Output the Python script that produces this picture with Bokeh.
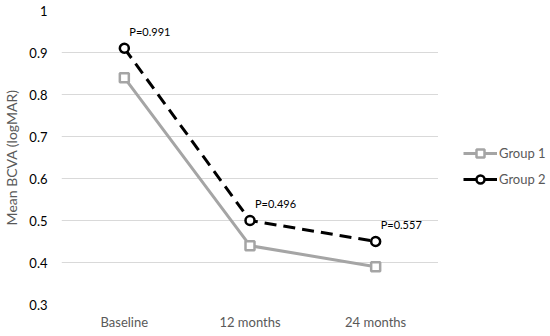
from bokeh.plotting import figure
from bokeh.layouts import row
from bokeh.models import FactorRange, Range1d, FixedTicker, Legend, LegendItem, ColumnDataSource, LabelSet
from bokeh.core.properties import value
from bokeh.embed import file_html
from bokeh.resources import INLINE

categories = ["Baseline", "12 months", "24 months"]
group1 = [0.84, 0.44, 0.39]
group2 = [0.91, 0.50, 0.45]
p_labels = ["P=0.991", "P=0.496", "P=0.557"]
y_ticks = [0.3, 0.4, 0.5, 0.6, 0.7, 0.8, 0.9, 1.0]
series_names = ["Group 1", "Group 2"]

FONT = "Lato"
C1 = "#a5a5a5"
C2 = "#000000"

p = figure(width=438, height=336, x_range=FactorRange(*categories, range_padding=0),
           y_range=Range1d(0.3, 1.0), output_backend="svg", toolbar_location=None,
           min_border_left=60, min_border_top=10, min_border_bottom=32, min_border_right=0)
p.outline_line_color = None
p.background_fill_color = "white"
p.border_fill_color = "white"

p.ygrid.grid_line_color = "#d9d9d9"
p.ygrid.grid_line_width = 1
p.xgrid.grid_line_color = None

p.yaxis.ticker = FixedTicker(ticks=y_ticks)
p.yaxis.major_label_overrides = {1.0: "1"}
for ax in (p.xaxis[0], p.yaxis[0]):
    ax.axis_line_color = None
    ax.major_tick_line_color = None
    ax.minor_tick_line_color = None
    ax.major_label_text_font = FONT
    ax.major_label_text_font_size = "13px"
    ax.major_label_text_color = "#000000"
p.xaxis.major_label_text_color = "#595959"
p.xaxis.major_label_standoff = 3
p.yaxis.major_label_standoff = 8
p.yaxis.axis_label = "Mean BCVA (logMAR)"
p.yaxis.axis_label_text_font = FONT
p.yaxis.axis_label_text_font_style = "normal"
p.yaxis.axis_label_text_font_size = "14px"
p.yaxis.axis_label_text_color = "#595959"
p.yaxis.axis_label_standoff = 6

src = ColumnDataSource(dict(x=categories, g1=group1, g2=group2, lab=p_labels))

p.line("x", "g1", source=src, line_color=C1, line_width=3)
p.scatter("x", "g1", source=src, marker="square", size=9, fill_color="white",
          line_color=C1, line_width=2.5)
p.line("x", "g2", source=src, line_color=C2, line_width=3, line_dash="12 7")
p.scatter("x", "g2", source=src, marker="circle", size=9, fill_color="white",
          line_color=C2, line_width=2.5)

labels = LabelSet(x="x", y="g2", text="lab", source=src, x_offset=5, y_offset=17,
                  text_font=value(FONT), text_font_size="11px", text_color="black",
                  text_baseline="middle", text_align="left")
p.add_layout(labels)

# legend panel (its own small figure to the right of the chart)
q = figure(width=112, height=336, x_range=Range1d(0, 1), y_range=Range1d(0, 1),
           output_backend="svg", toolbar_location=None, x_axis_type=None, y_axis_type=None,
           min_border=0)
q.outline_line_color = None
q.grid.visible = False
off = dict(x=[-10, -9], y=[-10, -9])
ll1 = q.line(x=off["x"], y=off["y"], line_color=C1, line_width=3)
lm1 = q.scatter(x=off["x"], y=off["y"], marker="square", size=9, fill_color="white", line_color=C1, line_width=2.5)
ll2 = q.line(x=off["x"], y=off["y"], line_color=C2, line_width=3)
lm2 = q.scatter(x=off["x"], y=off["y"], marker="circle", size=9, fill_color="white", line_color=C2, line_width=2.5)

legend = Legend(items=[LegendItem(label=series_names[0], renderers=[ll1, lm1]),
                       LegendItem(label=series_names[1], renderers=[ll2, lm2])],
                location=(25, 115), padding=0, margin=0, spacing=6,
                glyph_width=34, glyph_height=20, label_standoff=2,
                label_text_font=FONT, label_text_font_size="13px", label_text_color="#595959",
                border_line_color=None, background_fill_alpha=0)
q.add_layout(legend, "center")

layout = row(p, q, spacing=0)
open("out.html", "w").write(file_html(layout, INLINE))
